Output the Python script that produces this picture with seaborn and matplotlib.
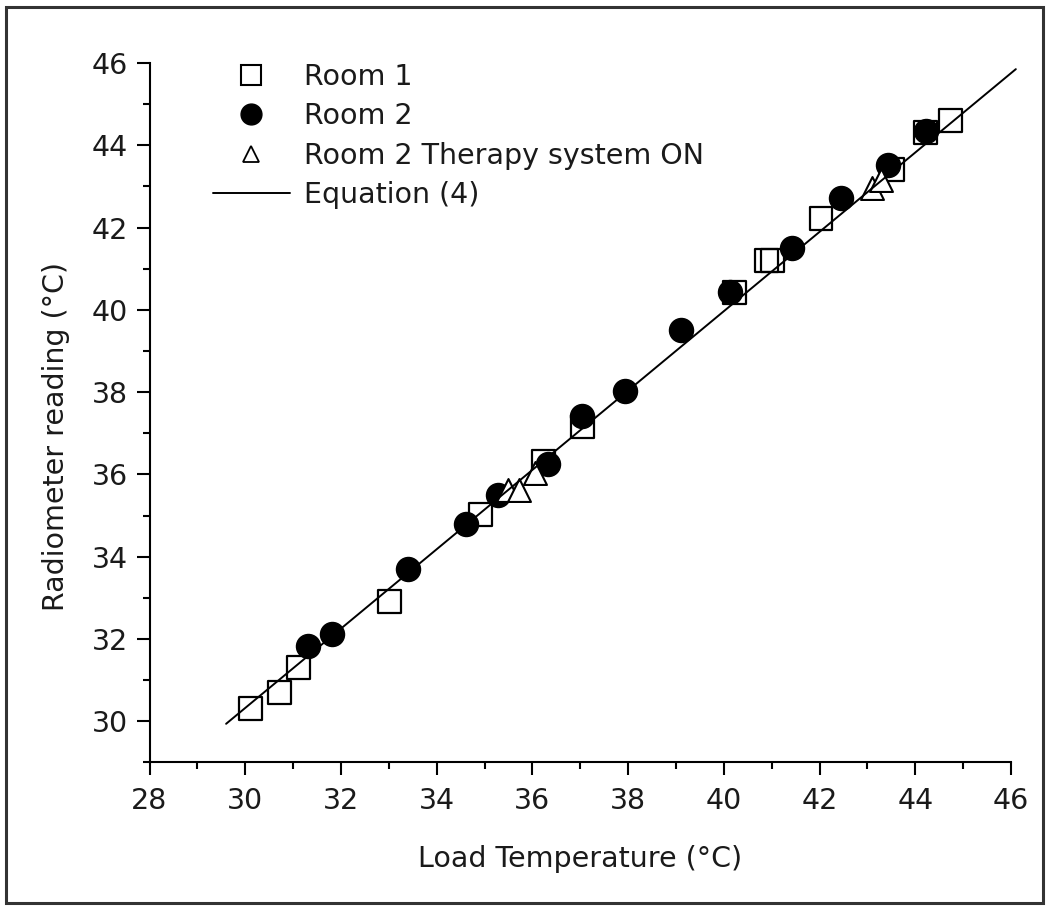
import matplotlib
matplotlib.use("Agg")
import matplotlib.pyplot as plt
import seaborn as sns
from matplotlib.ticker import MultipleLocator
from matplotlib.lines import Line2D
from matplotlib.patches import Rectangle

# ---- data ----
room1_x = [30.11, 30.72, 31.11, 33.01, 34.92, 36.24, 37.04, 40.22, 40.89, 41.02, 42.03, 43.52, 44.22, 44.73]
room1_y = [30.31, 30.70, 31.31, 32.92, 35.02, 36.31, 37.17, 40.43, 41.20, 41.20, 42.22, 43.41, 44.30, 44.60]

room2_x = [31.31, 31.82, 33.40, 34.62, 35.29, 36.32, 37.04, 37.94, 39.11, 40.12, 41.43, 42.44, 43.42, 44.22]
room2_y = [31.82, 32.13, 33.71, 34.80, 35.51, 36.26, 37.41, 38.04, 39.50, 40.43, 41.50, 42.72, 43.52, 44.34]

therapy_x = [35.50, 35.71, 36.06, 43.10, 43.28]
therapy_y = [35.63, 35.63, 36.04, 42.96, 43.16]

eq_x = [29.60, 46.10]
eq_y = [29.94, 45.85]

labels = ["Room 1", "Room 2", "Room 2 Therapy system ON", "Equation (4)"]
xlabel = "Load Temperature (°C)"
ylabel = "Radiometer reading (°C)"

# ---- style ----
sns.set_style("white")
plt.rcParams["font.family"] = ["DejaVu Sans"]
FS = 20.5
TXT = "#1a1a1a"

fig = plt.figure(figsize=(10.5, 9.1), dpi=100)
ax = fig.add_axes([0.1424, 0.1621, 0.8205, 0.7687])

sns.scatterplot(x=room1_x, y=room1_y, marker="s", s=272, color="none",
                edgecolor="black", linewidth=1.6, ax=ax, zorder=2, legend=False)
sns.scatterplot(x=room2_x, y=room2_y, marker="o", s=300, color="black",
                edgecolor="black", linewidth=1.0, ax=ax, zorder=3, legend=False)
sns.scatterplot(x=therapy_x, y=therapy_y, marker="^", s=272, color="white",
                edgecolor="black", linewidth=1.5, ax=ax, zorder=4, legend=False)
sns.lineplot(x=eq_x, y=eq_y, color="black", linewidth=1.4, ax=ax, zorder=5,
             clip_on=False, legend=False)

ax.set_xlim(28, 46)
ax.set_ylim(29, 46)
ax.xaxis.set_major_locator(MultipleLocator(2))
ax.xaxis.set_minor_locator(MultipleLocator(1))
ax.yaxis.set_major_locator(MultipleLocator(2))
ax.yaxis.set_minor_locator(MultipleLocator(1))

for side in ["top", "right"]:
    ax.spines[side].set_visible(False)
for side in ["left", "bottom"]:
    ax.spines[side].set_linewidth(1.5)
    ax.spines[side].set_color("black")

ax.tick_params(which="both", bottom=True, left=True, top=False, right=False)
ax.tick_params(which="major", direction="out", length=9.5, width=1.5,
               labelsize=FS, color="black", labelcolor=TXT)
ax.tick_params(which="minor", direction="out", length=5, width=1.5, color="black")
ax.tick_params(axis="x", which="major", pad=8.5)
ax.tick_params(axis="y", which="major", pad=6)
ax.grid(False)

ax.set_xlabel(xlabel, fontsize=FS, color=TXT)
ax.set_ylabel(ylabel, fontsize=FS, color=TXT)
ax.xaxis.set_label_coords(0.5, -0.118)
ax.yaxis.set_label_coords(-0.092, 0.466)

handles = [
    Line2D([], [], linestyle="none", marker="s", markersize=14, markerfacecolor="white",
           markeredgecolor="black", markeredgewidth=1.5),
    Line2D([], [], linestyle="none", marker="o", markersize=15, markerfacecolor="black",
           markeredgecolor="black"),
    Line2D([], [], linestyle="none", marker="^", markersize=12, markerfacecolor="white",
           markeredgecolor="black", markeredgewidth=1.3),
    Line2D([], [], color="black", linewidth=1.4),
]
ax.legend(handles, labels, loc="upper left", bbox_to_anchor=(0.0737, 1.0),
          frameon=False, fontsize=FS, handlelength=2.7, handletextpad=0.5,
          labelspacing=0.40, borderpad=0, borderaxespad=0, labelcolor=TXT)

fig.patches.append(Rectangle((6 / 1050, 7 / 910), 1037 / 1050, 896 / 910,
                             transform=fig.transFigure, fill=False,
                             linewidth=2.2, edgecolor="#333333"))

fig.savefig("out.png", dpi=100, facecolor="white")
